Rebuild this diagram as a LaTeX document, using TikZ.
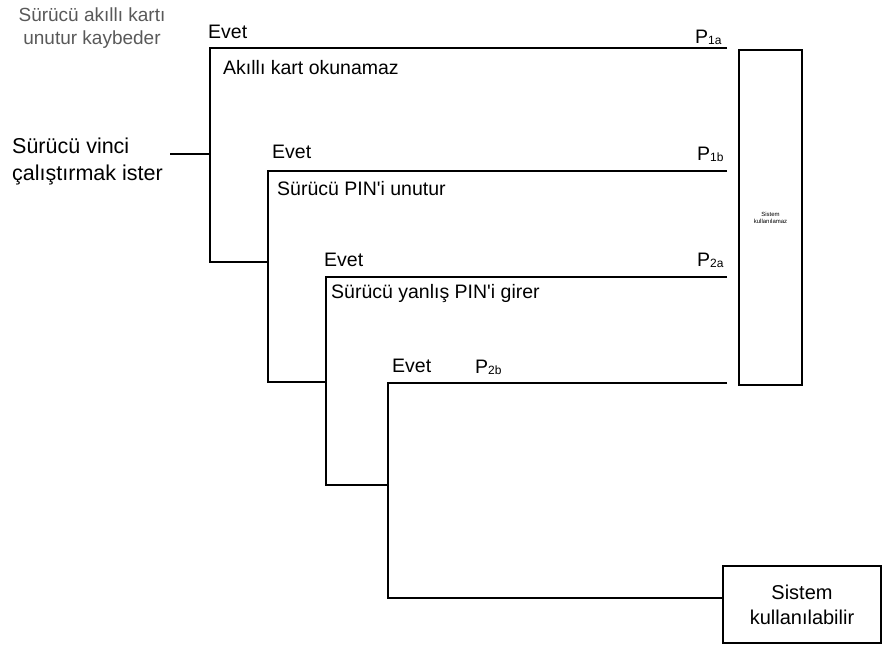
\documentclass[tikz,border=0pt]{standalone}
\usepackage{fontspec}
\setmainfont{Liberation Sans}[Ligatures=TeXOff]
\begin{document}
\begin{tikzpicture}[x=1pt,y=-1pt,
  txt/.style={anchor=base west,inner sep=0pt,font=\fontsize{19.5}{23}\selectfont},
  bigtxt/.style={anchor=base west,inner sep=0pt,align=left,font=\fontsize{21.5}{27}\selectfont},
  lbl/.style={anchor=base west,inner sep=0pt,font=\fontsize{19.5}{23}\selectfont},
  tree/.style={line width=1.6pt,line join=miter},
  boxn/.style={draw,line width=1.6pt,inner sep=0pt,align=center}]
\useasboundingbox (0,0) rectangle (883,648);
\newcommand{\Psub}[1]{P{\fontsize{12}{12}\selectfont\raisebox{-1pt}{#1}}}
% texts
\node[inner sep=0pt,align=center,text=black!65,font=\fontsize{19}{23}\selectfont,anchor=north] (t0) at (92,8) {Sürücü akıllı kartı\\unutur kaybeder};
\node[bigtxt] (start) at (12,180) {Sürücü vinci\\çalıştırmak ister};
\node[lbl] (e1) at (208,38) {Evet};
\node[lbl] (p1a) at (695,43) {\Psub{1a}};
\node[txt] (s1) at (223,74) {Akıllı kart okunamaz};
\node[lbl] (e2) at (272,158) {Evet};
\node[lbl] (p1b) at (697,160) {\Psub{1b}};
\node[txt] (s2) at (277,195) {Sürücü PIN'i unutur};
\node[lbl] (e3) at (324,266) {Evet};
\node[lbl] (p2a) at (697,266) {\Psub{2a}};
\node[txt] (s3) at (331,298) {Sürücü yanlış PIN'i girer};
\node[lbl] (e4) at (392,372) {Evet};
\node[lbl] (p2b) at (475,373) {\Psub{2b}};
% boxes
\node[boxn,minimum width=63pt,minimum height=335pt,font=\fontsize{6}{7}\selectfont] (fail) at (770.5,217.5) {Sistem\\kullanılamaz};
\node[boxn,minimum width=158pt,minimum height=77pt,font=\fontsize{20}{25}\selectfont] (ok) at (802,604.5) {Sistem\\kullanılabilir};
% coordinates
\coordinate (c0) at (170,154);
\coordinate (j1) at (210,154);
\coordinate (a1) at (727,48);  \coordinate (a1l) at (210,48);
\coordinate (n1) at (210,262); \coordinate (n1r) at (268,262);
\coordinate (a2) at (727,171); \coordinate (a2l) at (268,171);
\coordinate (n2) at (268,382); \coordinate (n2r) at (326,382);
\coordinate (a3) at (727,277); \coordinate (a3l) at (326,277);
\coordinate (n3) at (326,485); \coordinate (n3r) at (388,485);
\coordinate (a4) at (727,383); \coordinate (a4l) at (388,383);
\coordinate (n4) at (388,598);
% tree lines
\draw[tree] (c0) -- (j1);
\draw[tree] (a1) -- (a1l) -- (n1) -- (n1r);
\draw[tree] (a2) -- (a2l) -- (n2) -- (n2r);
\draw[tree] (a3) -- (a3l) -- (n3) -- (n3r);
\draw[tree] (a4) -- (a4l) -- (n4) -- (n4 -| ok.west);
\end{tikzpicture}
\end{document}
